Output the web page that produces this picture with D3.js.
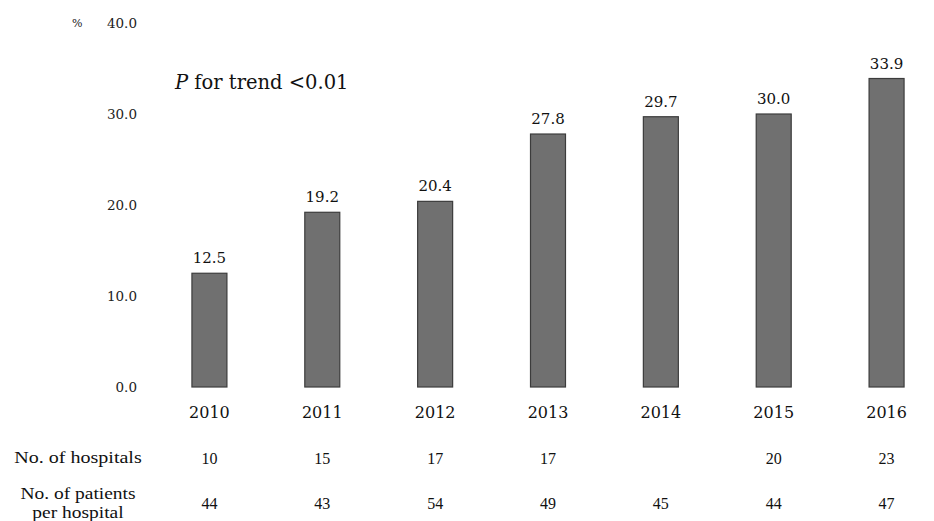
<!DOCTYPE html>
<html><head><meta charset="utf-8">
<script src="https://cdn.jsdelivr.net/npm/d3@7"></script>
<style>body{margin:0;background:#fff}</style>
</head><body>
<svg id="c" width="934" height="521"></svg>
<script>
const years = ["2010","2011","2012","2013","2014","2015","2016"];
const rates = [12.5,19.2,20.4,27.8,29.7,30.0,33.9];
const hospitals = ["10","15","17","17","","20","23"];
const patients = ["44","43","54","49","45","44","47"];
const yTicks = [0,10,20,30,40];

const svg = d3.select("#c");
const font = "'DejaVu Serif', serif";
const rowFont = "'Liberation Serif', serif";
const x = d3.scaleBand().domain(years).range([153,943]).paddingInner(0.69).paddingOuter(0.345);
const y = d3.scaleLinear().domain([0,40]).range([387,23]);

const yAxis = d3.axisLeft(y).tickValues(yTicks).tickFormat(d3.format(".1f")).tickSize(0).tickPadding(0);
const ga = svg.append("g").attr("transform","translate(137,0)").call(yAxis);
ga.attr("font-family",null).attr("font-size",null);
ga.select(".domain").remove();
ga.selectAll("text").style("font-family",font).style("font-size","13.5px").attr("fill","#222").attr("dy","0.32em");

svg.append("text").attr("x",72).attr("y",27).style("font-family",font).style("font-size","11px").attr("fill","#222").text("%");

svg.append("g").selectAll("rect").data(rates).join("rect")
  .attr("x",(d,i)=>x(years[i])).attr("width",x.bandwidth())
  .attr("y",d=>y(d)).attr("height",d=>y(0)-y(d))
  .attr("fill","#707070").attr("stroke","#3c3c3c").attr("stroke-width",1.2);

svg.append("g").selectAll("text").data(rates).join("text")
  .attr("x",(d,i)=>x(years[i])+x.bandwidth()/2).attr("y",d=>y(d)-10)
  .attr("text-anchor","middle").style("font-family",font).style("font-size","15px").attr("fill","#111")
  .text(d=>d3.format(".1f")(d));

const xAxis = d3.axisBottom(x).tickSize(0).tickPadding(0);
const gx = svg.append("g").attr("transform","translate(0,418)").call(xAxis);
gx.attr("font-family",null).attr("font-size",null);
gx.select(".domain").remove();
gx.selectAll("text").style("font-family",font).style("font-size","16px").attr("fill","#111").attr("dy","0");

const pt = svg.append("text").attr("x",175).attr("y",89).style("font-family",font).style("font-size","19.5px").attr("fill","#111");
pt.append("tspan").attr("font-style","italic").text("P");
pt.append("tspan").text(" for trend <0.01");

const sx = "translate(78,0) scale(1.18,1) translate(-78,0)";
svg.append("text").attr("x",78).attr("y",463).attr("text-anchor","middle").attr("transform",sx).style("font-family",rowFont)
  .style("font-size","17px").attr("fill","#111").text("No. of hospitals");
svg.append("text").attr("x",78).attr("y",499).attr("text-anchor","middle").attr("transform",sx).style("font-family",rowFont)
  .style("font-size","16.5px").attr("fill","#111").text("No. of patients");
svg.append("text").attr("x",78).attr("y",518).attr("text-anchor","middle").attr("transform",sx).style("font-family",rowFont)
  .style("font-size","16.5px").attr("fill","#111").text("per hospital");

svg.append("g").selectAll("text").data(hospitals).join("text")
  .attr("x",(d,i)=>x(years[i])+x.bandwidth()/2).attr("y",464).attr("text-anchor","middle")
  .style("font-family",rowFont).style("font-size","16px").attr("fill","#111").text(d=>d);
svg.append("g").selectAll("text").data(patients).join("text")
  .attr("x",(d,i)=>x(years[i])+x.bandwidth()/2).attr("y",509).attr("text-anchor","middle")
  .style("font-family",rowFont).style("font-size","16px").attr("fill","#111").text(d=>d);
</script>
</body></html>
